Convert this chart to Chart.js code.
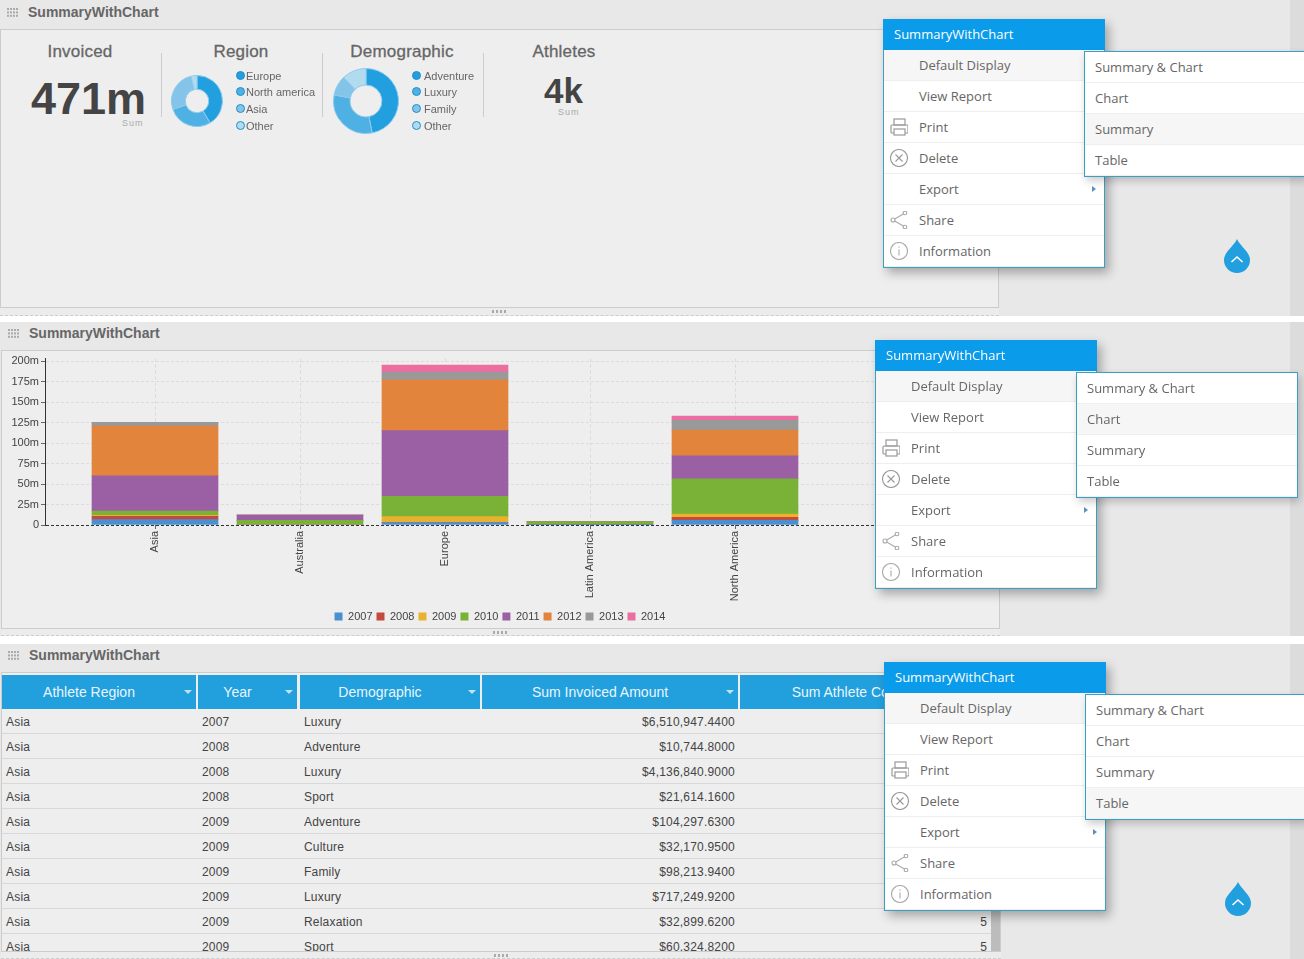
<!DOCTYPE html>
<html>
<head>
<meta charset="utf-8">
<title>SummaryWithChart</title>
<script src="https://cdn.jsdelivr.net/npm/chart.js@4/dist/chart.umd.min.js"></script>
<style>
  html, body { margin: 0; padding: 0; background: #fff; overflow: hidden; }
  #page { position: relative; width: 1304px; height: 959px; overflow: hidden; font-family: "Liberation Sans", Arial, sans-serif; }
  #page div, #page canvas, #page svg { position: absolute; }
  .band { left: 0; width: 1304px; background: #e8e8e8; }
  .strip { left: 1290px; width: 14px; background: #dcdcdc; }
  .title { font-weight: bold; font-size: 14px; color: #666; white-space: nowrap; }
  .body { background: #eee; border: 1px solid #ccc; border-bottom: 0; box-sizing: border-box; }
  .foot { border-top: 1px solid #ccc; border-bottom: 1px dashed #ccc; background: #ececec; box-sizing: border-box; }
  .kpi-head { font-size: 17px; color: #666; width: 160px; text-align: center; letter-spacing: .2px; white-space: nowrap; -webkit-text-stroke: .3px #666; }
  .big { font-weight: bold; color: #444; white-space: nowrap; }
  .sum { font-size: 9px; color: #aaa; letter-spacing: 1px; }
  .sep { width: 1px; top: 53px; height: 64px; background: #ccc; }
  .leg-dot { width: 7px; height: 7px; border-radius: 50%; border: 1px solid #1f8fc9; }
  .leg-txt { font-size: 11px; color: #666; white-space: nowrap; }
  .popup { width: 222px; height: 249px; background: #fff; border: 1px solid #3b9fc4; box-sizing: border-box; box-shadow: 4px 5px 10px rgba(0,0,0,.3); font-family: "Open Sans", sans-serif; }
  .popup-head { left: -1px; top: -1px; width: 222px; height: 31px; background: #0a9bea; color: #fff; font-size: 13px; line-height: 31px; text-indent: 11px; }
  .item { left: 0; width: 220px; height: 31px; border-bottom: 1px solid #eee; box-sizing: border-box; font-size: 13px; color: #666; line-height: 30px; white-space: nowrap; }
  .sub { width: 222px; height: 126px; background: #fff; border: 1px solid #3b9fc4; box-sizing: border-box; box-shadow: 2px 4px 8px rgba(0,0,0,.2); font-family: "Open Sans", sans-serif; }
  .th { top: 675px; height: 34px; background: #229fdd; color: #e8f6fd; font-size: 14px; line-height: 34px; text-align: center; white-space: nowrap; overflow: hidden; padding-right: 20px; box-sizing: border-box; }
  .td { font-size: 12px; color: #444; white-space: nowrap; line-height: 25px; height: 25px; letter-spacing: .2px; }
  .row { left: 2px; width: 989px; height: 25px; border-bottom: 1px solid #d8d8d8; box-sizing: border-box; }
</style>
</head>
<body>
<div id="page"></div>
<script>
// stacked bar chart data, $ millions
const regions = ['Asia', 'Australia', 'Europe', 'Latin America', 'North America'];
const years = ['2007', '2008', '2009', '2010', '2011', '2012', '2013', '2014'];
const v2007 = [6.5, 0, 3, 0.3, 5.7];
const v2008 = [4.2, 0, 0.3, 0, 3.6];
const v2009 = [1.1, 0, 7, 0, 4];
const v2010 = [5.2, 5.7, 24.8, 3.5, 43];
const v2011 = [43, 6.3, 80, 0, 28];
const v2012 = [60.7, 0, 62, 0, 31.5];
const v2013 = [4.5, 0.2, 9, 0, 12];
const v2014 = [0, 0, 9, 0, 5];
const yearValues = [v2007, v2008, v2009, v2010, v2011, v2012, v2013, v2014];
const yearColors = ['#4a90d0', '#c4493f', '#eab12c', '#79b236', '#9b5fa3', '#e3843c', '#999999', '#ea6fa0'];
const yTicks = [0, 25, 50, 75, 100, 125, 150, 175, 200];

// donuts
const regionLabels = ['Europe', 'North america', 'Asia', 'Other'];
const regionValues = [195, 133, 125, 18];
const demoLabels = ['Adventure', 'Luxury', 'Family', 'Other'];
const demoValues = [47, 31, 10, 12];
const donutColors = ['#229fde', '#4fb0e3', '#83c4e8', '#b3dbef'];

// table rows
const rowRegions = ['Asia', 'Asia', 'Asia', 'Asia', 'Asia', 'Asia', 'Asia', 'Asia', 'Asia', 'Asia'];
const rowYears = ['2007', '2008', '2008', '2008', '2009', '2009', '2009', '2009', '2009', '2009'];
const rowDemo = ['Luxury', 'Adventure', 'Luxury', 'Sport', 'Adventure', 'Culture', 'Family', 'Luxury', 'Relaxation', 'Sport'];
const rowAmounts = ['$6,510,947.4400', '$10,744.8000', '$4,136,840.9000', '$21,614.1600', '$104,297.6300', '$32,170.9500', '$98,213.9400', '$717,249.9200', '$32,899.6200', '$60,324.8200'];
const rowCounts = ['', '', '', '', '', '', '', '', '5', '5'];

const menuItems = ['Default Display', 'View Report', 'Print', 'Delete', 'Export', 'Share', 'Information'];
const subItems = ['Summary & Chart', 'Chart', 'Summary', 'Table'];

const page = document.getElementById('page');

function add(cls, style, html) {
  const d = document.createElement('div');
  d.className = cls;
  d.style.cssText = style;
  if (html !== undefined) d.innerHTML = html;
  (add.parent || page).appendChild(d);
  return d;
}

function gripSvg(x, y) {
  let dots = '';
  for (let r = 0; r < 3; r++) for (let c = 0; c < 4; c++) dots += `<rect x="${c * 3}" y="${r * 3.4}" width="2" height="2"/>`;
  return `<svg style="left:${x}px;top:${y}px" width="12" height="10" fill="#aaa">${dots}</svg>`;
}

function panel(top, h, titleY, bodyTop, bodyBottom, left, right, gripX) {
  add('band', `top:${top}px;height:${h}px`);
  add('strip', `top:${top}px;height:${h}px`);
  add('title', `left:${left + 28}px;top:${titleY - 8}px`, 'SummaryWithChart');
  page.insertAdjacentHTML('beforeend', gripSvg(left + 7, titleY - 4));
  add('body', `left:${left}px;top:${bodyTop}px;width:${right - left}px;height:${bodyBottom - bodyTop}px`);
  add('foot', `left:${left}px;top:${bodyBottom}px;width:${right - left}px;height:${top + h - bodyBottom}px`);
  add('', `left:${gripX}px;top:${bodyBottom + 3}px;width:14px;height:3px;background:repeating-linear-gradient(90deg,#aaa 0 2px,transparent 2px 4px)`);
}

panel(0, 316, 12, 29, 307, 0, 999, 492);
panel(322, 314, 333, 350, 628, 1, 1000, 493);
panel(644, 315, 655, 672, 951, 1, 1001, 494);

// --- summary panel
add('kpi-head', 'left:0;top:42px', 'Invoiced');
add('kpi-head', 'left:161px;top:42px', 'Region');
add('kpi-head', 'left:322px;top:42px', 'Demographic');
add('kpi-head', 'left:484px;top:42px', 'Athletes');
add('big', 'left:31px;top:73px;font-size:45px', '471m');
add('big', 'left:544px;top:71px;font-size:35px', '4k');
add('sum', 'left:122px;top:118px', 'Sum');
add('sum', 'left:558px;top:107px', 'Sum');
[161, 322, 483].forEach(x => add('sep', `left:${x}px`));

function donut(id, cx, cy, r, cut, labels, values) {
  const c = document.createElement('canvas');
  c.id = id;
  c.width = c.height = r * 2;
  c.style.cssText = `left:${cx - r}px;top:${cy - r}px;width:${r * 2}px;height:${r * 2}px`;
  page.appendChild(c);
  new Chart(c, {
    type: 'doughnut',
    data: { labels, datasets: [{ data: values, backgroundColor: donutColors, borderColor: '#8ccbee', borderWidth: 1 }] },
    options: {
      responsive: false,
      animation: false,
      cutout: cut,
      plugins: { legend: { display: false }, tooltip: { enabled: false } },
    },
  });
}

donut('region-donut', 197, 101, 26, '46%', regionLabels, regionValues);
donut('demo-donut', 366, 101, 33, '49%', demoLabels, demoValues);

function donutLegend(labels, dotX, textX) {
  const ys = [76, 92, 109, 126];
  labels.forEach((l, i) => {
    add('leg-dot', `left:${dotX - 4}px;top:${ys[i] - 5}px;background:${donutColors[i]}`);
    add('leg-txt', `left:${textX}px;top:${ys[i] - 6}px`, l);
  });
}
donutLegend(regionLabels, 240, 246);
donutLegend(demoLabels, 416, 424);

// --- stacked bars
const barCanvas = document.createElement('canvas');
barCanvas.id = 'bar-chart';
barCanvas.width = 1000;
barCanvas.height = 284;
barCanvas.style.cssText = 'left:0;top:350px;width:1000px;height:284px';
page.appendChild(barCanvas);

const plotLeft = 45, firstCenter = 155, bandWidth = 145;

new Chart(barCanvas, {
  type: 'bar',
  data: {
    datasets: years.map((y, i) => ({
      label: y,
      data: regions.map((_, j) => ({ x: j, y: yearValues[i][j] })),
      backgroundColor: yearColors[i],
      barThickness: 126,
    })),
  },
  options: {
    responsive: false,
    animation: false,
    layout: { padding: { top: 7, right: 0, bottom: 2 } },
    scales: {
      x: {
        type: 'linear',
        stacked: true,
        offset: false,
        min: (plotLeft - firstCenter) / bandWidth,
        max: (1000 - firstCenter) / bandWidth,
        afterBuildTicks: s => { s.ticks = regions.map((_, j) => ({ value: j })); },
        afterFit: s => { s.height = 82; },
        grid: { offset: false, color: '#d9d9d9', tickColor: '#666', tickLength: 4 },
        border: { display: false, dash: [3, 3] },
        ticks: {
          autoSkip: false,
          minRotation: 90,
          maxRotation: 90,
          padding: 2,
          color: '#444',
          font: { family: 'Liberation Sans', size: 11 },
          callback: v => regions[v],
        },
      },
      y: {
        stacked: true,
        min: 0,
        max: 203,
        afterBuildTicks: s => { s.ticks = yTicks.map(value => ({ value })); },
        afterFit: s => { s.width = plotLeft; },
        grid: {
          color: c => (c.tick && c.tick.value === 0 ? '#333' : '#dcdcdc'),
          tickColor: '#666',
          tickLength: 4,
        },
        border: { display: true, color: '#333', dash: [3, 2] },
        ticks: {
          padding: 2,
          color: '#444',
          font: { family: 'Liberation Sans', size: 11 },
          callback: v => (v === 0 ? '0' : v + 'm'),
        },
      },
    },
    plugins: {
      tooltip: { enabled: false },
      legend: {
        position: 'bottom',
        labels: {
          boxWidth: 8,
          boxHeight: 8,
          padding: 4,
          color: '#444',
          font: { family: 'Liberation Sans', size: 11 },
        },
      },
    },
  },
});

// --- table
const cols = [
  { x: 2, w: 194, name: 'Athlete Region' },
  { x: 198, w: 99, name: 'Year' },
  { x: 300, w: 180, name: 'Demographic' },
  { x: 482, w: 256, name: 'Sum Invoiced Amount' },
  { x: 740, w: 240, name: 'Sum Athlete Count' },
];
cols.forEach((c, i) => {
  add('th', `left:${c.x}px;width:${c.w}px`, c.name);
  if (i < 4) add('', `left:${c.x + c.w - 12}px;top:690px;width:0;height:0;border-left:4px solid transparent;border-right:4px solid transparent;border-top:4px solid #bfe4f7`);
});
const tableWrap = add('', 'left:0;top:709px;width:1001px;height:242px;overflow:hidden');
add.parent = tableWrap;
rowRegions.forEach((r, i) => {
  const y = i * 25;
  add('row', `top:${y}px`);
  add('td', `left:6px;top:${y + 1}px`, r);
  add('td', `left:202px;top:${y + 1}px`, rowYears[i]);
  add('td', `left:304px;top:${y + 1}px`, rowDemo[i]);
  add('td', `right:266px;top:${y + 1}px`, rowAmounts[i]);
  add('td', `right:14px;top:${y + 1}px`, rowCounts[i]);
});
add('', 'left:991px;top:0;width:9px;height:242px;background:#bcbcbc');
add.parent = null;

// --- popup menus
const icons = {
  Print: '<g fill="none" stroke="#999" stroke-width="1.2"><rect x="4" y="1" width="11" height="6"/><rect x="1" y="7" width="17" height="8" rx="1"/><rect x="4" y="11" width="11" height="6" fill="#fff"/></g>',
  Delete: '<g fill="none" stroke="#999" stroke-width="1.1"><circle cx="9" cy="9" r="8.5"/><path d="M5.5 5.5l7 7M12.5 5.5l-7 7"/></g>',
  Share: '<g fill="none" stroke="#aaa" stroke-width="1.1"><path d="M3 9L15 2M3 9l12 7"/><circle cx="3" cy="9" r="2" fill="#fff"/><circle cx="15" cy="2" r="1.8" fill="#fff"/><circle cx="15" cy="16" r="1.8" fill="#fff"/></g>',
  Information: '<g fill="none" stroke="#aaa" stroke-width="1.1"><circle cx="9" cy="9" r="8.5"/><path d="M9 7.5v6M9 4.5v1.2"/></g>',
};

function popup(x, y, activeSub) {
  const p = add('popup', `left:${x}px;top:${y}px`);
  add.parent = p;
  add('popup-head', '', 'SummaryWithChart');
  menuItems.forEach((m, i) => {
    const it = add('item', `top:${30 + i * 31}px;text-indent:35px;${i === 0 ? 'background:#f6f6f6' : ''}`, m);
    if (icons[m]) it.insertAdjacentHTML('beforeend', `<svg style="left:6px;top:6px" width="18" height="18">${icons[m]}</svg>`);
    if (m === 'Export') add('', `left:208px;top:${30 + i * 31 + 12}px;width:0;height:0;border-top:3.5px solid transparent;border-bottom:3.5px solid transparent;border-left:4px solid #5a93c0`);
  });
  add.parent = null;
  const s = add('sub', `left:${x + 201}px;top:${y + 32}px`);
  add.parent = s;
  subItems.forEach((m, i) => {
    add('item', `top:${i * 31}px;text-indent:10px;${m === activeSub ? 'background:#f6f6f6' : ''}`, m);
  });
  add.parent = null;
}

popup(883, 19, 'Summary');
popup(875, 340, 'Chart');
popup(884, 662, 'Table');

function drop(cx, cy) {
  page.insertAdjacentHTML('beforeend', `<svg style="left:${cx - 14}px;top:${cy - 20}px" width="28" height="36">
    <path d="M14 1C11 8 1 14 1 22a13 13 0 0 0 26 0C27 14 17 8 14 1Z" fill="#229fde"/>
    <path d="M8.5 24l5.5-5 5.5 5" fill="none" stroke="#fff" stroke-width="1.6"/></svg>`);
}
drop(1237, 258);
drop(1238, 901);
</script>
</body>
</html>
